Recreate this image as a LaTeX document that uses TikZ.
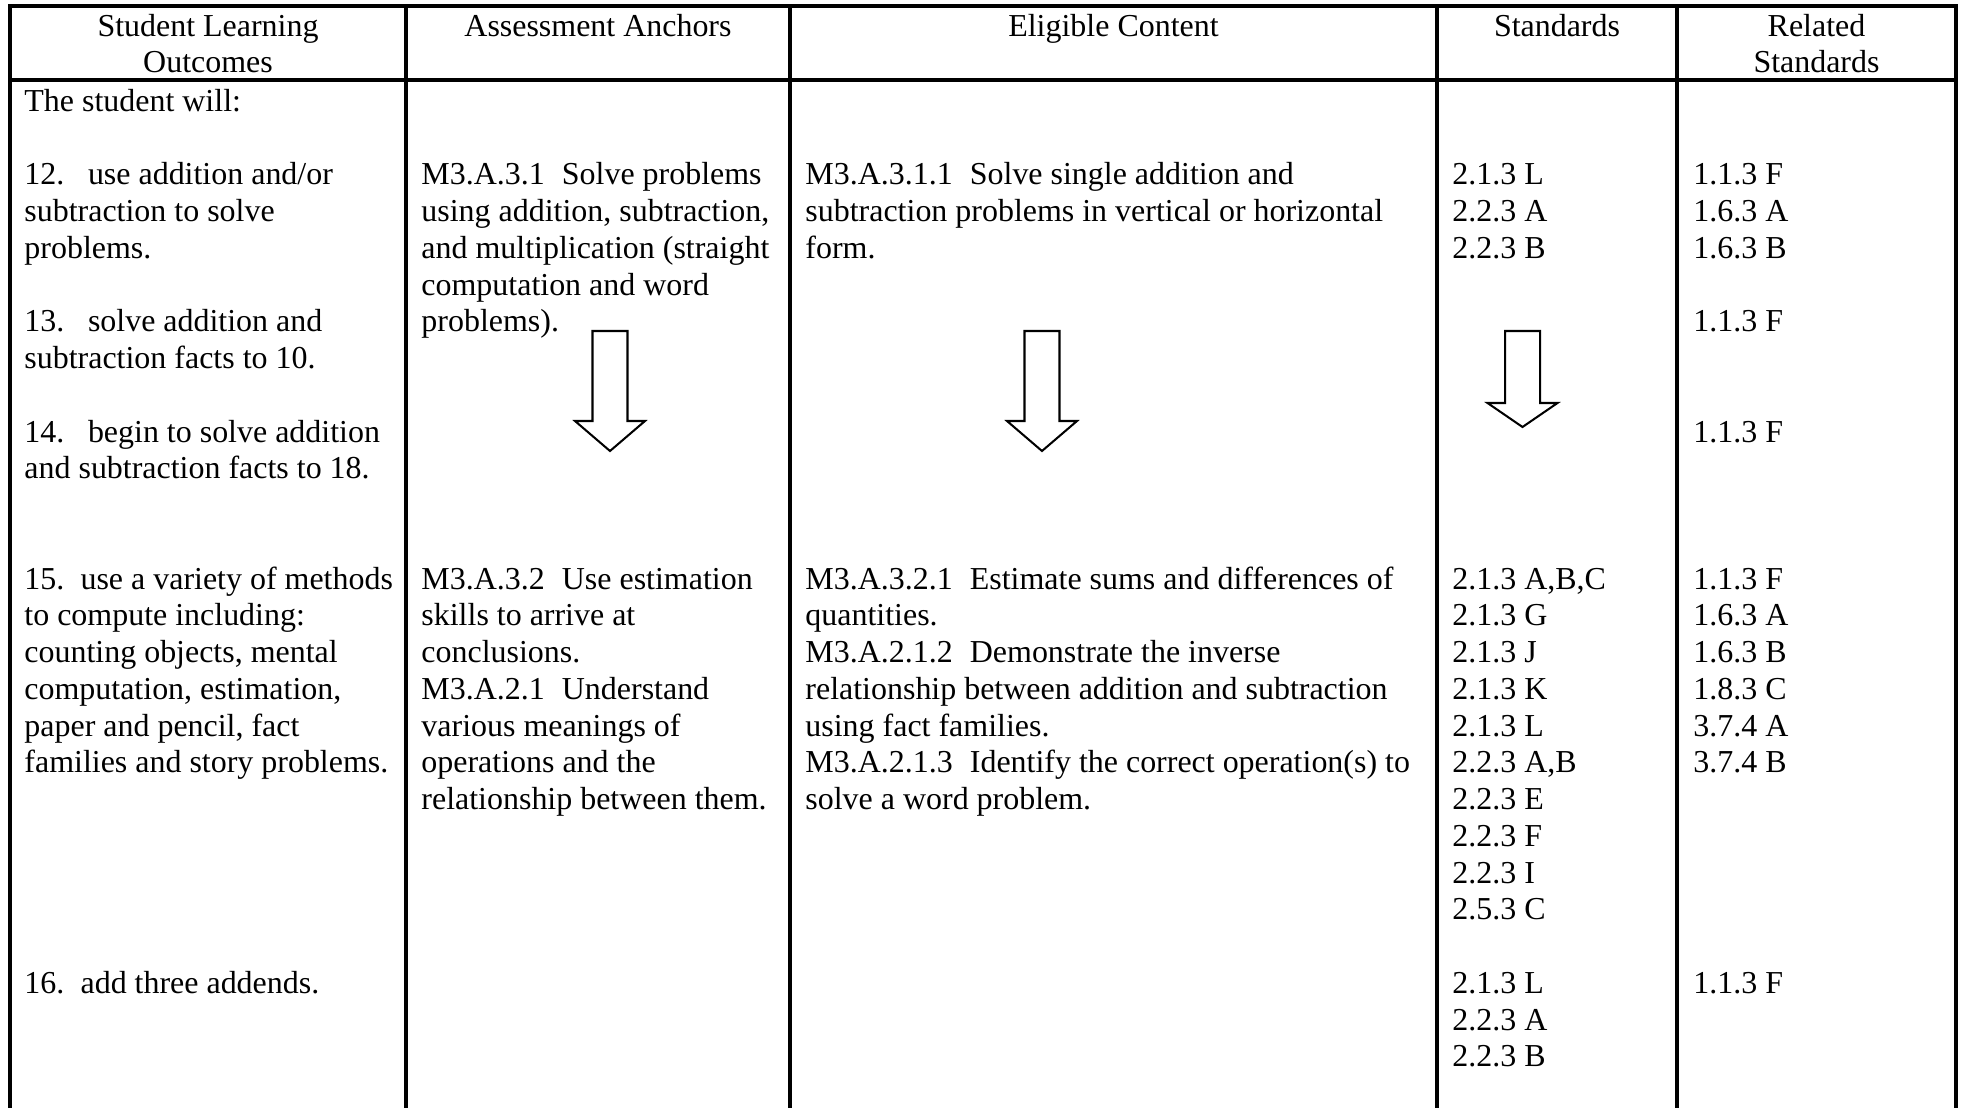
\documentclass[tikz,border=0pt]{standalone}
\usepackage{fontspec}
\setmainfont{Liberation Serif}
\begin{document}
\begin{tikzpicture}[x=0.4444pt,y=-0.4444pt,
  cell/.style={anchor=base west,inner sep=0pt,font=\fontsize{14.2}{16.33}\selectfont},
  head/.style={anchor=base,inner sep=0pt,font=\fontsize{14.2}{16.33}\selectfont},
  rule/.style={line width=1.35pt,line join=miter},
  arrowline/.style={line width=0.9pt,line join=miter,fill=white}]
\useasboundingbox (0,0) rectangle (1961,1108);
% grid of text rows: baseline of row n
\def\rowbase{111.3}
\def\rowgap{36.75}
\newcommand\cellrows[4]{%
  \foreach \txt [count=\i from 0] in {#4}{%
    \node[cell] (#1-\i) at (#2,{\rowbase+\rowgap*(#3+\i)}) {\txt};
  }}
\newcommand\hollowarrow[5]{% centre x, top, shoulder, tip, head half width
  \draw[arrowline] ({#1-17.5},#2) -- ({#1+17.5},#2) -- ({#1+17.5},#3) -- ({#1+#5},#3)
    -- (#1,#4) -- ({#1-#5},#3) -- ({#1-17.5},#3) -- cycle;}
\newcommand\gap{\hspace{7.6pt}}

% table rules
\draw[rule] (10,1108) -- (10,6) -- (1956,6) -- (1956,1108);
\draw[rule] (10,80) -- (1956,80);
\foreach \cx in {406,790,1437,1677}{\draw[rule] (\cx,6) -- (\cx,1108);}

% header
\node[head] (h1a) at (208,36.5) {Student Learning};
\node[head] (h1b) at (208,72.5) {Outcomes};
\node[head] (h2) at (598,36.5) {Assessment Anchors};
\node[head] (h3) at (1113.5,36.5) {Eligible Content};
\node[head] (h4) at (1557,36.5) {Standards};
\node[head] (h5a) at (1816.5,36.5) {Related};
\node[head] (h5b) at (1816.5,72.5) {Standards};

% Student Learning Outcomes
\cellrows{slo}{24}{0}{{The student will:}}
\cellrows{slo12}{24}{2}{{12.\hspace{10.5pt}use addition and/or},{subtraction to solve},{problems.}}
\cellrows{slo13}{24}{6}{{13.\hspace{10.5pt}solve addition and},{subtraction facts to 10.}}
\cellrows{slo14}{24}{9}{{14.\hspace{10.5pt}begin to solve addition},{and subtraction facts to 18.}}
\cellrows{slo15}{24}{13}{{15.\hspace{7.2pt}use a variety of methods},{to compute including:},{counting objects, mental},{computation, estimation,},{paper and pencil, fact},{families and story problems.}}
\cellrows{slo16}{24}{24}{{16.\hspace{7.2pt}add three addends.}}

% Assessment Anchors
\cellrows{aa1}{421}{2}{{M3.A.3.1\gap Solve problems},{using addition, subtraction,},{and multiplication (straight},{computation and word},{problems).}}
\cellrows{aa2}{421}{13}{{M3.A.3.2\gap Use estimation},{skills to arrive at},{conclusions.},{M3.A.2.1\gap Understand},{various meanings of},{operations and the},{relationship between them.}}

% Eligible Content
\cellrows{ec1}{805}{2}{{M3.A.3.1.1\gap Solve single addition and},{subtraction problems in vertical or horizontal},{form.}}
\cellrows{ec2}{805}{13}{{M3.A.3.2.1\gap Estimate sums and differences of},{quantities.},{M3.A.2.1.2\gap Demonstrate the inverse},{relationship between addition and subtraction},{using fact families.},{M3.A.2.1.3\gap Identify the correct operation(s) to},{solve a word problem.}}

% Standards
\cellrows{st1}{1452}{2}{{2.1.3 L},{2.2.3 A},{2.2.3 B}}
\cellrows{st2}{1452}{13}{{2.1.3 A,B,C},{2.1.3 G},{2.1.3 J},{2.1.3 K},{2.1.3 L},{2.2.3 A,B},{2.2.3 E},{2.2.3 F},{2.2.3 I},{2.5.3 C}}
\cellrows{st3}{1452}{24}{{2.1.3 L},{2.2.3 A},{2.2.3 B}}

% Related Standards
\cellrows{rs1}{1693}{2}{{1.1.3 F},{1.6.3 A},{1.6.3 B}}
\cellrows{rs2}{1693}{6}{{1.1.3 F}}
\cellrows{rs3}{1693}{9}{{1.1.3 F}}
\cellrows{rs4}{1693}{13}{{1.1.3 F},{1.6.3 A},{1.6.3 B},{1.8.3 C},{3.7.4 A},{3.7.4 B}}
\cellrows{rs5}{1693}{24}{{1.1.3 F}}

% hollow down arrows
\hollowarrow{610}{331}{421}{451}{35}
\hollowarrow{1042}{331}{421}{451}{35}
\hollowarrow{1522.5}{331}{403}{427}{35}
\end{tikzpicture}
\end{document}
